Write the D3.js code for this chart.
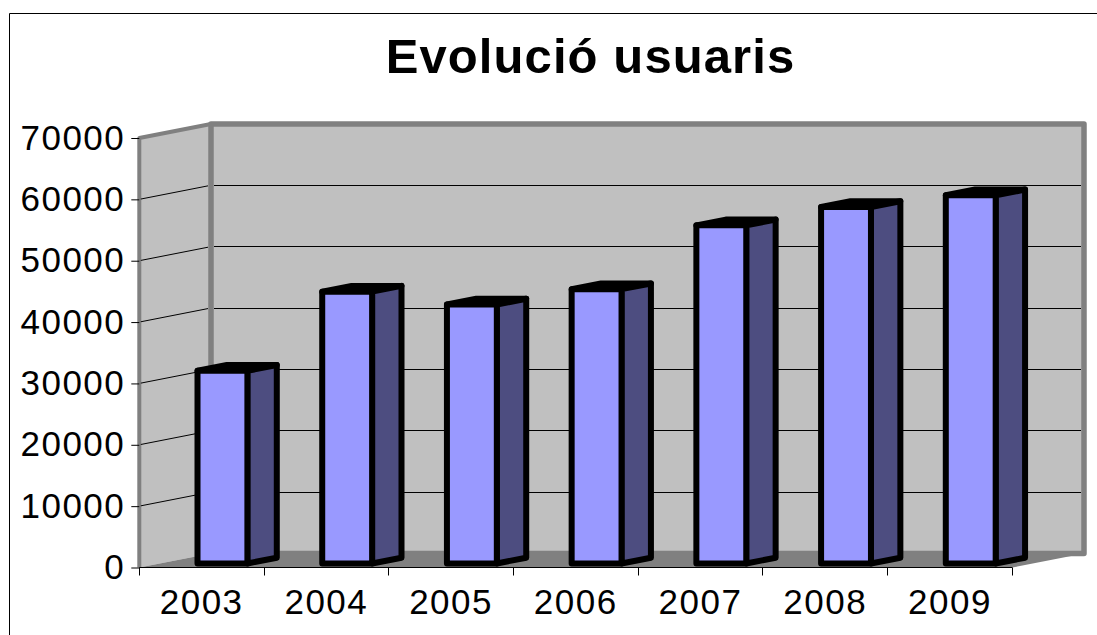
<!DOCTYPE html>
<html><head><meta charset="utf-8">
<script src="https://cdnjs.cloudflare.com/ajax/libs/d3/7.8.5/d3.min.js"></script>
<style>html,body{margin:0;padding:0;background:#fff}svg{display:block}text{font-family:"Liberation Sans",Arial,sans-serif;fill:#000}</style>
</head><body><svg id="c" width="1097" height="635"></svg>
<script>
const chartTitle = "Evolució usuaris";
const years = ["2003","2004","2005","2006","2007","2008","2009"];
const users = [31400,44300,42200,44700,55100,58100,60000];
const yTicks = [0,10000,20000,30000,40000,50000,60000,70000];

const svg = d3.select("#c");
const x0 = 139.3, x1 = 1012.3, y0 = 567.5, yTop = 138, depthX = 71.7, depthY = 14;
const x = d3.scaleBand().domain(years).range([x0, x1]).paddingInner(0.6).paddingOuter(0.3);
const y = d3.scaleLinear().domain([0,70000]).range([y0,yTop]);
const P = (px, py, d) => [px + d*depthX, py - d*depthY];
const line = d3.line();

// chart frame: open to the right, as it runs past the picture
svg.append("path").attr("d","M9.5,635V13.5H1097").attr("fill","none").attr("stroke","#000").attr("stroke-width",1);

// walls
const wallStyle = s => s.attr("fill","#c0c0c0").attr("stroke","#808080").attr("stroke-linejoin","round");
svg.append("path").attr("d", line([P(x0,y(0),0),P(x0,y(70000),0),P(x0,y(70000),1),P(x0,y(0),1)]))
  .call(wallStyle).attr("stroke-width",4);
svg.append("path").attr("d", line([P(x0,y(0),1),P(x0,y(70000),1),P(x1,y(70000),1),P(x1,y(0),1)])+"Z")
  .call(wallStyle).attr("stroke-width",5.5);
// floor
svg.append("path").attr("d", line([P(x0,y(0),0),P(x0,y(0),1),P(x1,y(0),1),P(x1,y(0),0)])+"Z")
  .attr("fill","#808080");

// gridlines
yTicks.filter(t => t>0 && t<70000).forEach(t => {
  const b = P(x0,y(t),1);
  svg.append("path").attr("d", line([[x0+1.5,y(t)-0.3],[b[0]-3,b[1]+0.5]])).attr("stroke","#000").attr("stroke-width",1).attr("fill","none");
  const gy = Math.round(b[1]-0.5)+0.5;
  svg.append("path").attr("d", line([[b[0]+3,gy],[P(x1,y(t),1)[0]-3,gy]])).attr("stroke","#000").attr("stroke-width",1).attr("fill","none");
});

// bars
const dFront = 0.29, dBack = 0.7;
const bars = svg.append("g").selectAll("g").data(years.map((yr,i)=>({yr,v:users[i]}))).join("g")
  .attr("fill","none").attr("stroke","#000").attr("stroke-width",6).attr("stroke-linejoin","round");
bars.append("path").attr("fill","#000").attr("d", d => {
  const l=x(d.yr), r=l+x.bandwidth(), t=y(d.v);
  return line([P(l,t,dFront),P(l,t,dBack),P(r,t,dBack),P(r,t,dFront)])+"Z";
});
bars.append("path").attr("fill","#4d4d80").attr("d", d => {
  const r=x(d.yr)+x.bandwidth(), t=y(d.v), b=y(0);
  return line([P(r,t,dFront),P(r,t,dBack),P(r,b,dBack),P(r,b,dFront)])+"Z";
});
bars.append("path").attr("fill","#9999ff").attr("d", d => {
  const l=x(d.yr), r=l+x.bandwidth(), t=y(d.v), b=y(0);
  return line([P(l,t,dFront),P(r,t,dFront),P(r,b,dFront),P(l,b,dFront)])+"Z";
});

// axes
const yAxis = d3.axisLeft(y).tickValues(yTicks).tickSize(8).tickPadding(6).tickFormat(d3.format("d"));
const gy = svg.append("g").attr("transform",`translate(${x0},0)`).call(yAxis);
gy.selectAll("text").attr("font-size",35).attr("letter-spacing",1.5).attr("dy","0.32em");
gy.selectAll("line").attr("stroke","#000");
gy.select(".domain").attr("stroke","none");

const xAxis = d3.axisBottom(x).tickSize(0).tickPadding(22);
const gx = svg.append("g").attr("transform",`translate(0,${y0})`).call(xAxis);
gx.selectAll("text").attr("font-size",35).attr("letter-spacing",1.5).attr("dy","0.71em").attr("text-anchor","middle");
gx.select(".domain").remove();
const band = x.step();
svg.append("path").attr("d",line([[x0,Math.floor(y0)+0.5],[x1,Math.floor(y0)+0.5]])).attr("stroke","#000").attr("fill","none");
d3.range(years.length+1).forEach(i=>{
  const tx = Math.floor(x0 + i*band)+0.5;
  svg.append("path").attr("d",line([[tx,y0],[tx,y0+8]])).attr("stroke","#000").attr("fill","none");
});

svg.append("text").attr("x",590.5).attr("y",73).attr("text-anchor","middle").attr("font-size",49).attr("font-weight","bold").attr("letter-spacing",1.1).text(chartTitle);
</script></body></html>
